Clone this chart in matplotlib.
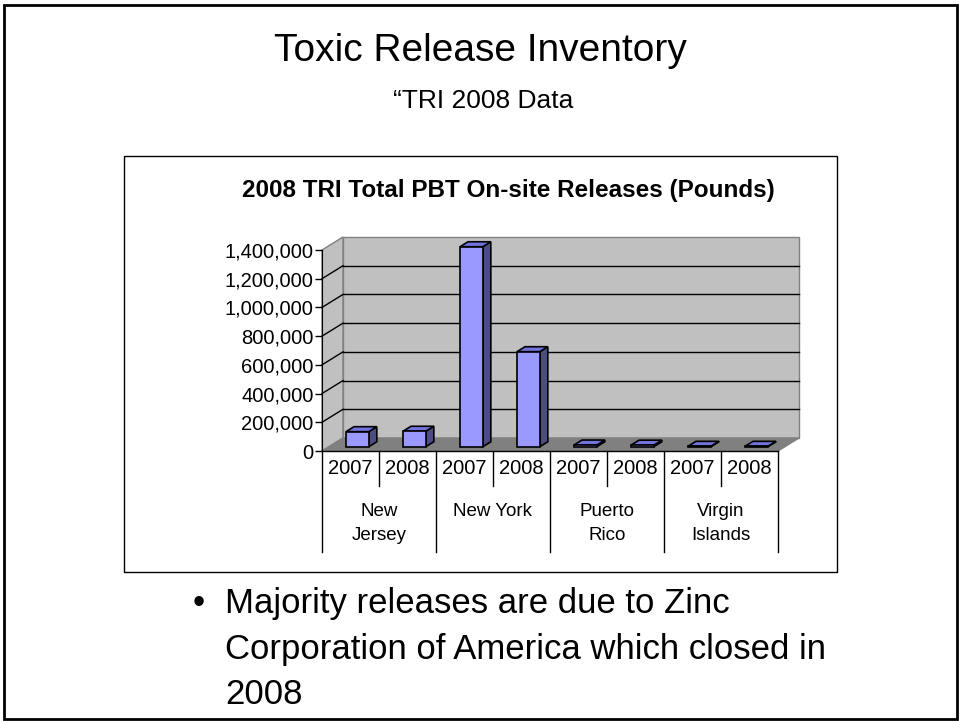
import numpy as np
import matplotlib.pyplot as plt
from matplotlib.patches import Rectangle, Polygon

# data
states = ["New\nJersey", "New York", "Puerto\nRico", "Virgin\nIslands"]
years = ["2007", "2008"]
releases = [105000, 108000, 1393000, 662000, 12000, 11000, 3000, 3000]
yticks = [0, 200000, 400000, 600000, 800000, 1000000, 1200000, 1400000]

W, H = 960, 721
fig = plt.figure(figsize=(W / 100, H / 100), dpi=100)
plt.rcParams['font.family'] = ['Liberation Sans', 'DejaVu Sans']


def fx(px):
    return px / W


def fy(py):
    return 1 - py / H


# slide frame and chart frame
fig.add_artist(Rectangle((fx(4), fy(719)), fx(953), 714 / H, transform=fig.transFigure,
                         fill=False, ec='black', lw=2))
fig.add_artist(Rectangle((fx(124), fy(572)), fx(713), 416 / H, transform=fig.transFigure,
                         fill=False, ec='black', lw=1))

fig.text(0.5, fy(51), "Toxic Release Inventory", ha='center', va='center', fontsize=28)
fig.text(0.503, fy(101), "\u201cTRI 2008 Data", ha='center', va='center', fontsize=19)
fig.text(fx(508), fy(191), "2008 TRI Total PBT On-site Releases (Pounds)", ha='center',
         va='center', fontsize=17.5, fontweight='bold')

fig.text(fx(193), fy(603), "\u2022", ha='left', va='center', fontsize=25)
for i, line in enumerate(["Majority releases are due to Zinc",
                          "Corporation of America which closed in",
                          "2008"]):
    fig.text(fx(225), fy(603 + 46 * i), line, ha='left', va='center', fontsize=25)

# front plane of the plot area
x0p, x1p, y0p, y1p = 322, 778, 451, 250
ax = fig.add_axes([fx(x0p), fy(y0p), (x1p - x0p) / W, (y0p - y1p) / H])
n = len(releases)
ymax = yticks[-1]
ax.set_xlim(0, n)
ax.set_ylim(0, ymax)

# depth of the 3d box in data units
DX = 21 / (x1p - x0p) * n
DY = 13 / (y0p - y1p) * ymax

wall = '#C0C0C0'
edge = '#808080'
ax.add_patch(Rectangle((DX, DY), n, ymax, fc=wall, ec=edge, lw=1, clip_on=False, zorder=1))
ax.add_patch(Polygon([(0, 0), (DX, DY), (DX, ymax + DY), (0, ymax)], closed=True,
                     fc=wall, ec=edge, lw=1, clip_on=False, zorder=1))
for v in yticks[1:-1]:
    ax.plot([DX, n + DX], [v + DY, v + DY], color='black', lw=1, clip_on=False, zorder=2)
    ax.plot([0, DX], [v, v + DY], color='black', lw=1, clip_on=False, zorder=2)
ax.add_patch(Polygon([(0, 0), (n, 0), (n + DX, DY), (DX, DY)], closed=True,
                     fc='#808080', ec='#808080', lw=1, clip_on=False, zorder=2))

# bars with a front face, a side and a top
bw = 0.40
f0 = 0.33
d = 0.38
for i, v in enumerate(releases):
    bx = i + (1 - bw) / 2 + f0 * DX
    by = f0 * DY
    ax.bar(bx, v, width=bw, bottom=by, align='edge', color='#9999FF', ec='black',
           lw=1.2, zorder=5, clip_on=False)
    ax.add_patch(Polygon([(bx + bw, by), (bx + bw + d * DX, by + d * DY),
                          (bx + bw + d * DX, by + v + d * DY), (bx + bw, by + v)],
                         closed=True, fc='#4D4D85', ec='black', lw=1.2, zorder=4, clip_on=False))
    ax.add_patch(Polygon([(bx, by + v), (bx + bw, by + v), (bx + bw + d * DX, by + v + d * DY),
                          (bx + d * DX, by + v + d * DY)],
                         closed=True, fc='#7373DD', ec='black', lw=1.2, zorder=4, clip_on=False))

for s in ['top', 'right', 'bottom']:
    ax.spines[s].set_visible(False)
ax.spines['left'].set_color('black')
ax.spines['left'].set_zorder(3)
ax.set_yticks(yticks)
ax.set_yticklabels([f"{v:,}" for v in yticks], fontsize=14.5)
ax.tick_params(axis='y', length=5, width=1, pad=1)
ax.set_xticks([])

# category table below the floor
tr = ax.get_xaxis_transform()
ph = y0p - y1p
ax.plot([0, n], [0, 0], color='black', lw=1, transform=tr, clip_on=False, zorder=6)
for k in range(n + 1):
    low = 101 if k % 2 == 0 else 35
    ax.plot([k, k], [0, -low / ph], color='black', lw=1, transform=tr, clip_on=False)
for i in range(n):
    ax.text(i + 0.5, -17 / ph, years[i % 2], ha='center', va='center', fontsize=14.5,
            transform=tr)
for j, s in enumerate(states):
    ax.text(2 * j + 1, -52 / ph, s, ha='center', va='top', fontsize=13.5,
            linespacing=1.5, transform=tr)

fig.savefig("out.png", dpi=100)
